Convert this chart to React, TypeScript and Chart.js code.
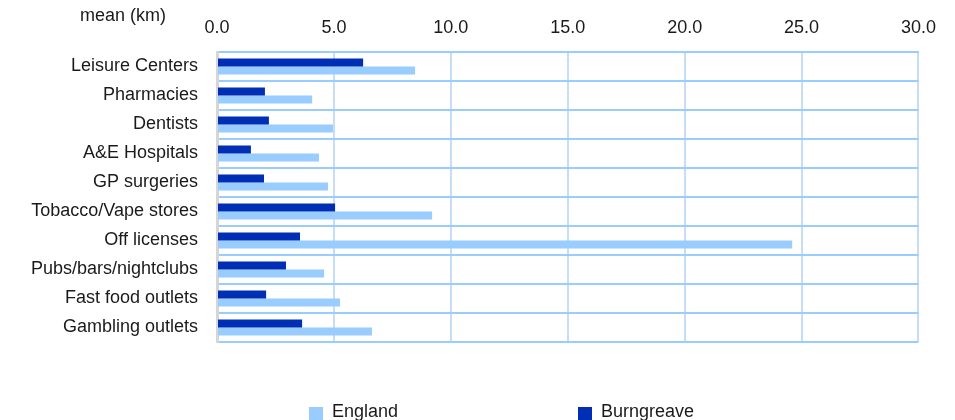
import React, { useEffect, useRef } from "react";
import { Chart, registerables } from "chart.js";

Chart.register(...registerables);

const categories = [
  "Leisure Centers",
  "Pharmacies",
  "Dentists",
  "A&E Hospitals",
  "GP surgeries",
  "Tobacco/Vape stores",
  "Off licenses",
  "Pubs/bars/nightclubs",
  "Fast food outlets",
  "Gambling outlets",
];
const burngreave = [6.25, 2.05, 2.22, 1.45, 2.01, 5.05, 3.55, 2.95, 2.1, 3.64];
const england = [8.47, 4.07, 4.96, 4.36, 4.75, 9.2, 24.6, 4.58, 5.26, 6.63];
const axisTitle = "mean (km)";
const xMin = 0;
const xMax = 30;
const xStep = 5;

const FONT = "'Liberation Sans', Arial, sans-serif";
const DARK = "#002EB4";
const LIGHT = "#99CCFF";

const titlePlugin = {
  id: "meanTitle",
  afterDraw(chart: any) {
    const ctx = chart.ctx;
    ctx.save();
    ctx.font = `18px ${FONT}`;
    ctx.fillStyle = "#1a1a1a";
    ctx.textAlign = "center";
    ctx.textBaseline = "middle";
    ctx.fillText(axisTitle, 115, 8);
    ctx.restore();
  },
};

export default function App() {
  const ref = useRef<HTMLCanvasElement>(null);
  useEffect(() => {
    if (!ref.current) return;
    const chart = new Chart(ref.current, {
      type: "bar",
      data: {
        labels: categories,
        datasets: [
          { label: "Burngreave", data: burngreave, backgroundColor: DARK },
          { label: "England", data: england, backgroundColor: LIGHT },
        ],
      },
      options: {
        indexAxis: "y",
        animation: false,
        responsive: true,
        maintainAspectRatio: false,
        datasets: { bar: { categoryPercentage: 0.55, barPercentage: 1 } } as any,
        layout: { padding: { top: 0, right: 0, bottom: 78, left: 0 } },
        plugins: { legend: { display: false }, tooltip: { enabled: false } },
        scales: {
          x: {
            position: "top",
            min: xMin,
            max: xMax,
            afterFit: (s: any) => { s.height = 44; },
            ticks: {
              stepSize: xStep,
              padding: 13,
              color: "#1a1a1a",
              font: { family: FONT, size: 18 },
              callback: (v: any) => Number(v).toFixed(1),
            },
            grid: { color: "#C6DDF7", lineWidth: 2, drawTicks: false },
            border: { color: LIGHT, width: 2 },
          },
          y: {
            afterFit: (s: any) => { s.width = 209; },
            ticks: {
              padding: 19,
              color: "#1a1a1a",
              font: { family: FONT, size: 18 },
            },
            grid: { color: LIGHT, lineWidth: 2, drawTicks: false, offset: true },
            border: { color: "#D6D6D6", width: 3 },
          },
        },
      },
      plugins: [titlePlugin],
    });
    return () => chart.destroy();
  }, []);

  const legendText: React.CSSProperties = {
    position: "absolute",
    font: `18px ${FONT}`,
    color: "#1a1a1a",
    lineHeight: "18px",
    top: 394,
  };
  const box: React.CSSProperties = { position: "absolute", width: 14, height: 13, top: 399 };

  return (
    <div style={{ position: "relative", width: 941, height: 412 }}>
      <canvas ref={ref} />
      <div style={{ ...box, left: 301, background: LIGHT }} />
      <div style={{ ...legendText, left: 324 }}>England</div>
      <div style={{ ...box, left: 570, background: DARK }} />
      <div style={{ ...legendText, left: 593 }}>Burngreave</div>
    </div>
  );
}
